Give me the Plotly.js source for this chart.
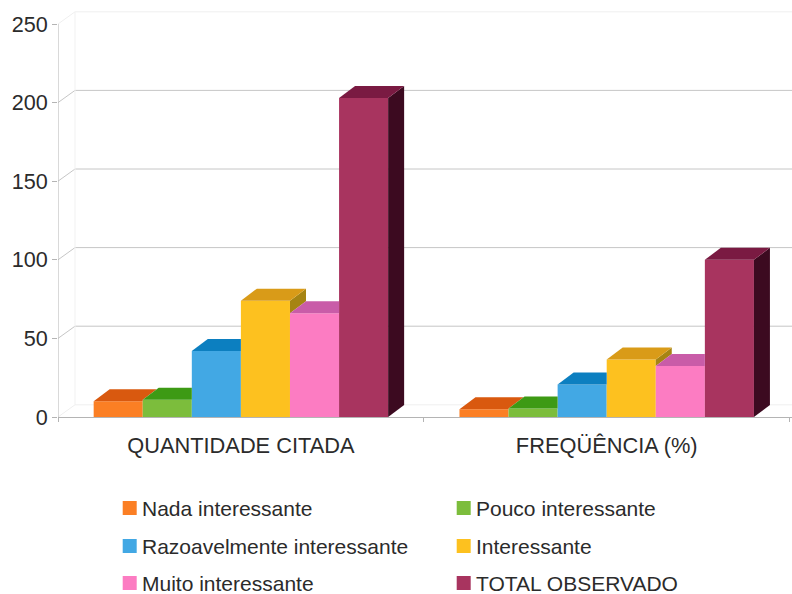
<!DOCTYPE html>
<html lang="pt">
<head>
<meta charset="utf-8">
<title>Interesse citado</title>
<script src="https://cdn.plot.ly/plotly-3.0.1.min.js"></script>
<style>html,body{margin:0;padding:0;background:#fff}#chart{width:792px;height:594px}</style>
</head>
<body>
<div id="chart"></div>
<script>
// Chart content
const groups = ['QUANTIDADE CITADA', 'FREQÜÊNCIA (%)'];
const groupCenters = [0.5, 1.5];
const seriesNames = ['Nada interessante', 'Pouco interessante', 'Razoavelmente interessante', 'Interessante', 'Muito interessante', 'TOTAL OBSERVADO'];
const nadaValues = [10, 4.9];
const poucoValues = [11, 5.4];
const razoavelValues = [42, 20.7];
const interessanteValues = [74, 36.5];
const muitoValues = [66, 32.5];
const totalValues = [203, 100];
const seriesValues = [nadaValues, poucoValues, razoavelValues, interessanteValues, muitoValues, totalValues];
const yTicks = [0, 50, 100, 150, 200, 250];

// Face colours for the extruded look
const frontColors = ['#fb7f24', '#7cbd3c', '#42a8e4', '#fdc11f', '#fc7cc2', '#a8345f'];
const topColors = ['#d9590f', '#3d9a14', '#0c7fc0', '#d99b18', '#c95ca8', '#7a1a42'];
const sideColors = ['#a8460c', '#2b7010', '#075f94', '#a68413', '#94407c', '#3c0a20'];

// Geometry in axis units
const pxPerX = 365.8, pxPerY = 393 / 250;
const groupSpan = 0.805;
const barWidth = groupSpan / seriesNames.length;
const depthX = 16 / pxPerX, depthY = 12 / pxPerY;
const wallX = 17 / pxPerX, wallY = 12.2 / pxPerY;
const plotLeft = 58, plotTop = 8, plotBaseline = 417;
const xMax = (792 - plotLeft) / pxPerX;
const yMax = (plotBaseline - plotTop) / pxPerY;

const traces = seriesNames.map((name, i) => ({
  type: 'bar', name, x: groupCenters, y: seriesValues[i],
  marker: {color: frontColors[i], line: {width: 0}}, showlegend: false
}));

// Top and side faces; the part of each face hidden by the next bar is left out
function facePolygon(xs, ys, color, name) {
  return {type: 'scatter', mode: 'lines', x: xs.concat(xs[0]), y: ys.concat(ys[0]), fill: 'toself',
    fillcolor: color, line: {width: 0, color: color}, showlegend: false, hoverinfo: 'skip', name};
}
groupCenters.forEach((center, g) => {
  seriesNames.forEach((name, i) => {
    const left = center + (i - seriesNames.length / 2) * barWidth;
    const right = left + barWidth;
    const v = seriesValues[i][g];
    const next = i < seriesNames.length - 1 ? seriesValues[i + 1][g] : 0;
    if (next < v) {
      traces.push(facePolygon([right, right + depthX, right + depthX, right],
        [next, next + depthY, v + depthY, v], sideColors[i], name));
      traces.push(facePolygon([left, right, right + depthX, left + depthX],
        [v, v, v + depthY, v + depthY], topColors[i], name));
    } else {
      // A taller neighbour hides this top except for the sliver left of its own top edge
      const visible = Math.max(0, (v + depthY - next) / depthY);
      traces.push(facePolygon(
        [left, right, right, right + depthX * visible, left + depthX],
        [v, v, Math.min(next, v + depthY), v + depthY, v + depthY], topColors[i], name));
    }
  });
});

// Back wall, side wall and floor
const shapes = [];
function rule(x0, y0, x1, y1, color) {
  shapes.push({type: 'line', layer: 'below', xref: 'x', yref: 'y', x0, y0, x1, y1, line: {color, width: 1}});
}
yTicks.forEach(v => {
  const faint = v === 0 || v === 250;
  rule(wallX, v + wallY, xMax, v + wallY, faint ? '#efefef' : '#c6c6c6');
  rule(0, v, wallX, v + wallY, faint ? '#efefef' : '#c6c6c6');
});
rule(wallX, wallY, wallX, 250 + wallY, '#f1f1f1');
rule(0, 0, 0, 250, '#b4b4b4');

// Legend: swatches and labels laid out on a fixed two-column grid
const legendColumns = [122.7, 456.7];
const legendRows = [508, 546, 583];
const toPaperX = px => (px - plotLeft) / (792 - plotLeft);
const toPaperY = py => (plotBaseline - py) / (plotBaseline - plotTop);
const annotations = [];
seriesNames.forEach((name, i) => {
  const cx = legendColumns[i % 2], cy = legendRows[Math.floor(i / 2)];
  shapes.push({type: 'rect', xref: 'paper', yref: 'paper',
    x0: toPaperX(cx), x1: toPaperX(cx + 14), y0: toPaperY(cy - 7), y1: toPaperY(cy + 7),
    fillcolor: frontColors[i], line: {width: 0}});
  annotations.push({xref: 'paper', yref: 'paper', x: toPaperX(cx + 17.5), y: toPaperY(cy),
    xanchor: 'left', yanchor: 'middle', showarrow: false, text: name,
    font: {family: 'Liberation Sans, Arial, sans-serif', size: 21, color: '#2b2b2b'}});
});

const layout = {
  width: 792, height: 594,
  margin: {l: plotLeft, r: 0, t: plotTop, b: 594 - plotBaseline, pad: 0},
  paper_bgcolor: '#fff', plot_bgcolor: '#fff',
  barmode: 'group', bargap: 1 - groupSpan, bargroupgap: 0,
  showlegend: false, shapes, annotations,
  font: {family: 'Liberation Sans, Arial, sans-serif', color: '#2b2b2b'},
  xaxis: {
    range: [0, xMax], fixedrange: true, tickmode: 'array', tickvals: groupCenters, ticktext: groups,
    ticks: '', showgrid: false, zeroline: false, showline: true, linecolor: '#b4b4b4', linewidth: 1,
    tickfont: {size: 21.8, color: '#2b2b2b'}, ticklabelstandoff: 9,
    minor: {tickmode: 'array', tickvals: [0, 1, 2], ticks: 'outside', ticklen: 4, tickcolor: '#b4b4b4', tickwidth: 1, showgrid: false}
  },
  yaxis: {
    range: [0, yMax], fixedrange: true, tickmode: 'array', tickvals: yTicks,
    ticks: 'outside', ticklen: 5, tickcolor: '#b4b4b4', showgrid: false, zeroline: false, showline: false,
    tickfont: {size: 21.6, color: '#2b2b2b'}
  }
};

Plotly.newPlot('chart', traces, layout, {displayModeBar: false, staticPlot: true});
</script>
</body>
</html>
